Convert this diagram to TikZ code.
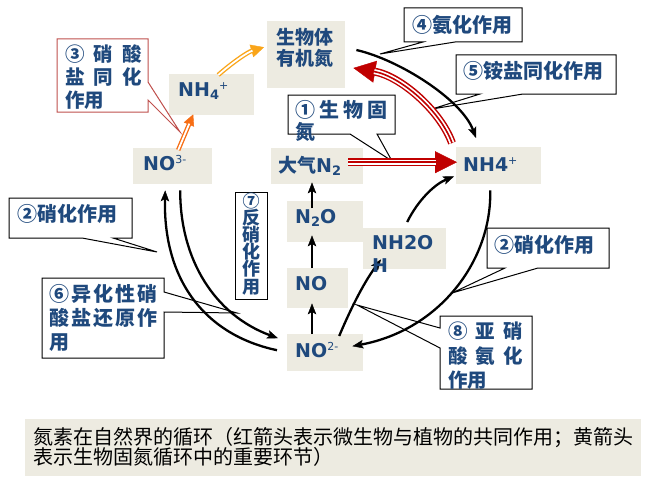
\documentclass[tikz,border=0pt]{standalone}
\usepackage{fontspec}
\setmainfont{DejaVu Sans}
\newfontfamily\cjk{Noto Sans CJK SC}
\newfontfamily\lat{DejaVu Sans}
\usetikzlibrary{arrows.meta,calc}
\definecolor{tblue}{RGB}{31,73,125}
\definecolor{beige}{RGB}{237,235,225}
\definecolor{arrred}{RGB}{192,0,0}
\definecolor{callred}{RGB}{192,80,77}
\definecolor{orA}{RGB}{247,110,20}
\definecolor{orB}{RGB}{250,165,25}
\newcommand\mysub[1]{\raisebox{-3pt}{\fontsize{13}{13}\selectfont #1}}
\newcommand\mysup[1]{\raisebox{7pt}{\fontsize{11}{11}\selectfont\mdseries #1}}
\newcommand\ml[2]{\parbox[t]{#1}{\raggedright\lineskiplimit=-50pt\lineskip=0pt #2}}
\begin{document}
\begin{tikzpicture}[x=1pt,y=-1pt,
  bg/.style={fill=beige, draw=none, inner sep=0pt, anchor=north west},
  lt/.style={anchor=base west, inner sep=0pt, text=tblue, font=\lat\bfseries\fontsize{19}{23}\selectfont},
  cj/.style={anchor=base west, inner sep=0pt, text=tblue, font=\cjk\bfseries\fontsize{20}{23}\selectfont},
  cbox/.style={draw=black, line width=1pt, fill=white, line join=miter},
  blk/.style={draw=black, line width=2.3pt, -{Stealth[length=11pt,width=8.5pt,inset=2.5pt,line width=0.4pt]}},
  redarr/.style={draw=arrred, line width=8pt, -{Triangle[length=22pt,width=22pt,line width=0.4pt]},
     postaction={draw=white, line width=5pt, shorten >=21pt, -},
     postaction={draw=arrred, line width=1.6pt, shorten >=21pt, -}},
  orarrA/.style={draw=orA, line width=4.5pt, -{Triangle[length=11pt,width=11pt,line width=0.4pt]},
     postaction={draw=white, line width=1.8pt, shorten >=10pt, -}},
  orarrB/.style={draw=orB, line width=4.5pt, -{Triangle[length=13pt,width=13pt,line width=0.4pt]},
     postaction={draw=white, line width=1.8pt, shorten >=12pt, -}}
]
\useasboundingbox (0,0) rectangle (648,487);
\fill[white] (0,0) rectangle (648,487);

% ---------- beige boxes ----------
\node[bg,minimum width=78pt,minimum height=67pt] (org) at (267,21) {};
\node[bg,minimum width=85pt,minimum height=41pt] (nh4a) at (169,74) {};
\node[bg,minimum width=79pt,minimum height=36pt] (no3) at (133,148) {};
\node[bg,minimum width=92pt,minimum height=36pt] (air) at (271,148) {};
\node[bg,minimum width=85pt,minimum height=37pt] (nh4b) at (456,147) {};
\node[bg,minimum width=76pt,minimum height=41pt] (n2o) at (287,201) {};
\node[bg,minimum width=61pt,minimum height=40pt] (no) at (287,268) {};
\node[bg,minimum width=76pt,minimum height=37pt] (no2) at (287,334) {};
\node[bg,minimum width=83pt,minimum height=41pt] (nh2oh) at (363,228) {};
\node[bg,minimum width=616pt,minimum height=57pt] (capbox) at (25,419) {};

% ---------- callouts ----------
\draw[cbox, draw=callred] (57,39) -- (148,39) -- (148,82) -- (180,132) -- (148,100) -- (148,112) -- (57,112) -- cycle;
\draw[cbox] (404,8) -- (522,8) -- (522,42) -- (455,42) -- (380,54) -- (423,42) -- (404,42) -- cycle;
\draw[cbox] (456,55) -- (616,55) -- (616,94) -- (523,94) -- (432,109) -- (480,94) -- (456,94) -- cycle;
\draw[cbox] (288,95) -- (395,95) -- (395,134) -- (377,134) -- (392,161) -- (350,134) -- (288,134) -- cycle;
\draw[cbox] (9,198) -- (132,198) -- (132,238) -- (113,238) -- (157,252) -- (82,238) -- (9,238) -- cycle;
\draw[cbox] (42,278) -- (164,278) -- (164,292) -- (237,313) -- (164,312) -- (164,358) -- (42,358) -- cycle;
\draw[cbox] (235,192) rectangle (267,299);
\draw[cbox] (487,228) -- (609,228) -- (609,268) -- (538,268) -- (452,293) -- (505,268) -- (487,268) -- cycle;
\draw[cbox] (440,316) -- (532,316) -- (532,389) -- (440,389) -- (440,348) -- (357,305) -- (440,328) -- cycle;

% ---------- arrows ----------
\coordinate (colx) at (312,0);
\draw[blk] ($(org.north east)+(11,29)$) .. controls (400,60) and (462,100) .. ($(nh4b.north west)+(20,-9)$);
\draw[redarr] ($(nh4b.north west)+(-4,-4)$) .. controls (440,110) and (400,76) .. ($(org.north east)+(8,47)$);
\draw[redarr] ($(air.east)+(-15,-4)$) -- ($(nh4b.west)+(1,-3.5)$);
\draw[orarrA] ($(no3.north)+(5.5,2)$) -- ($(nh4a.south)+(-18.5,-1)$);
\draw[orarrB] ($(nh4a.north)+(6.5,1)$) .. controls (233,62) and (248,52) .. ($(org.west)+(-3,-7.5)$);
\draw[blk] ($(no2.west)+(-10,-2.5)$) .. controls (205,335) and (163,280) .. ($(no3.south)+(-7.5,6)$);
\draw[blk] ($(no3.south)+(7.5,6)$) .. controls (180,260) and (215,315) .. ($(no2.west)+(-9,-14.5)$);
\draw[blk] (no2.north -| colx) -- ($(no.south -| colx)+(0,-5)$);
\draw[blk] (no.north -| colx) -- ($(n2o.south -| colx)+(0,-7)$);
\draw[blk] ($(n2o.north -| colx)+(0,7)$) -- ($(air.south -| colx)+(0,-2)$);
\draw[blk] ($(no2.north)+(14,2)$) .. controls (348,315) and (362,285) .. ($(nh2oh.south west)+(18,-10)$);
\draw[blk] ($(nh2oh.north)+(2.5,-6)$) .. controls (418,200) and (435,184) .. ($(nh4b.south west)+(-2,-8)$);
\draw[blk] ($(nh4b.south)+(-8.5,6)$) .. controls (492,260) and (440,330) .. ($(no2.east)+(-11,-6.5)$);

% ---------- box texts ----------
\node[cj, font=\cjk\bfseries\fontsize{19}{20.5}\selectfont] (torg) at (276,45) {\ml{70pt}{生物体\\有机氮}};
\node[lt] (tnh4a) at (178,96) {NH\mysub{4}\mysup{+}};
\node[lt] (tno3) at (143,170) {NO\mysup{3-}};
\node[lt] (tair) at (278,172) {{\cjk 大气}N\mysub{2}};
\node[lt] (tnh4b) at (463,171) {NH4\mysup{+}};
\node[lt] (tn2o) at (295,223) {N\mysub{2}O};
\node[lt] (tno) at (295,290) {NO};
\node[lt] (tno2) at (295,357) {NO\mysup{2-}};
\node[lt] (tnh2oh) at (372,249) {\ml{80pt}{NH2O\\H}};

% ---------- callout texts ----------
\node[cj, font=\cjk\bfseries\fontsize{19.5}{23}\selectfont] (t3) at (65,61.4) {\ml{120pt}{\makebox[77pt][s]{③\hfill 硝\hfill 酸}\\\makebox[77pt][s]{盐\hfill 同\hfill 化}\\作用}};
\node[cj] (t4) at (412,32.4) {④氨化作用};
\node[cj] (t5) at (463,78.6) {⑤铵盐同化作用};
\node[cj, font=\cjk\bfseries\fontsize{20}{22}\selectfont] (t1) at (295,117.6) {\ml{120pt}{\makebox[92pt][s]{①\hfill 生\hfill 物\hfill 固}\\氮}};
\node[cj] (t2a) at (17,221.6) {②硝化作用};
\node[cj, font=\cjk\bfseries\fontsize{20}{24}\selectfont] (t6) at (49,301.6) {\ml{130pt}{\makebox[108pt][s]{⑥\hfill 异\hfill 化\hfill 性\hfill 硝}\\\makebox[108pt][s]{酸\hfill 盐\hfill 还\hfill 原\hfill 作}\\用}};
\node[cj, font=\cjk\bfseries\fontsize{18}{17.2}\selectfont] (t7) at (236,207) {\ml{30pt}{\centering{\fontsize{17}{17.2}\selectfont ⑦}\\反\\硝\\化\\作\\用}};
\node[cj] (t2b) at (494,252.6) {②硝化作用};
\node[cj, font=\cjk\bfseries\fontsize{19.5}{24.5}\selectfont] (t8) at (448,338.6) {\ml{120pt}{\makebox[75pt][s]{⑧\hfill 亚\hfill 硝}\\\makebox[75pt][s]{酸\hfill 氨\hfill 化}\\作用}};

% ---------- caption ----------
\node[anchor=base west, inner sep=0pt, text=black, font=\cjk\fontsize{20}{20}\selectfont] (cap) at (33,444.6) {\ml{620pt}{氮素在自然界的循环（红箭头表示微生物与植物的共同作用；黄箭头\\表示生物固氮循环中的重要环节）}};
\end{tikzpicture}
\end{document}
